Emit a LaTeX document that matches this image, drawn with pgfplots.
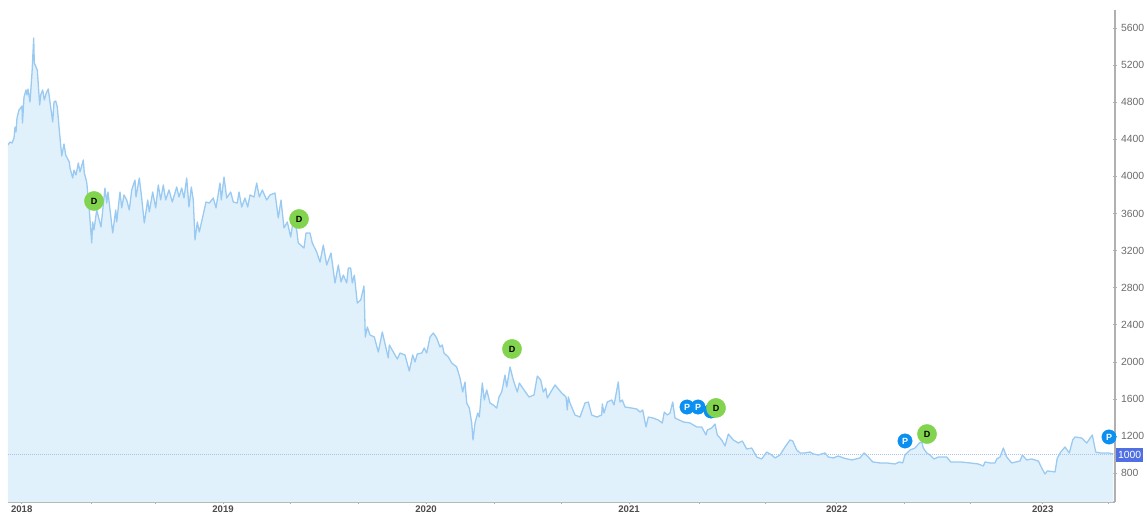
\documentclass[border=0pt]{standalone}
\usepackage{pgfplots}
\usepackage{pgfplotstable}
\usepackage{fontspec}
\setmainfont{Liberation Sans}
\pgfplotsset{compat=1.18}
\definecolor{areafill}{HTML}{E1F1FB}
\definecolor{linec}{HTML}{9ACAF2}
\definecolor{axisc}{HTML}{B0B0B0}
\definecolor{dgreen}{HTML}{82D44E}
\definecolor{pblue}{HTML}{0B8FF0}
\definecolor{boxblue}{HTML}{4F6FE3}
\definecolor{dotc}{HTML}{A9C4F2}
\pgfplotstableread{
x v
8 4339
10 4371
12 4360
14 4414
15 4533
16 4479
17 4630
19 4716
22 4759
22.5 4576
24 4856
26 4932
27 4878
28 4942
30 4802
32 5115
33.7 5492
34.3 5223
36 5180
37.3 5147
39.7 4770
40.7 4878
42.7 4932
44.3 4824
46.3 4899
48.3 4942
50 4802
52.7 4587
54 4802
55.7 4813
57.3 4748
59.3 4500
61.7 4220
64 4350
65.7 4231
69.3 4155
70 4091
72.7 3983
74 4069
76 4015
78.3 4145
80 4048
83.3 4177
84.3 4037
86.7 3940
89.3 3638
91.7 3282
92.7 3509
94 3422
96.7 3638
101 3455
105 3875
106.7 3713
108 3832
112.7 3390
115.7 3638
116.7 3509
120 3832
121.7 3660
124 3800
126.7 3746
129.3 3638
131.7 3854
135 3961
136 3778
139.3 3983
141.7 3767
144.3 3498
147.7 3746
149.3 3617
152.7 3832
155.7 3660
158.3 3908
160.7 3746
163.3 3908
165.7 3746
169 3854
172.3 3724
176.7 3886
179 3778
181.7 3875
184 3767
186.7 3983
189 3670
191.3 3886
193.3 3746
195 3315
197.3 3509
199.3 3401
202.7 3563
206 3724
209.3 3713
213.3 3767
216 3660
220 3929
221.3 3746
224 3994
226.7 3767
230.7 3832
233.3 3724
237.3 3713
239 3832
241.7 3670
245 3767
247.7 3670
250 3800
254 3778
256.7 3929
259.3 3778
262.3 3854
266.7 3746
270 3800
275 3821
278.3 3552
281 3746
284 3444
287.3 3509
290.7 3347
293.3 3530
296.7 3422
298.3 3282
304 3228
306 3390
310 3390
312.3 3282
316.7 3185
320 3077
323.3 3260
326.7 3045
331 3174
335 2851
338.3 3045
341 2862
343.3 2937
346.7 2851
348.3 3013
350.7 3013
352.3 2851
354.3 2937
357.3 2635
360.7 2668
364 2819
365.3 2269
367.3 2377
370 2291
374.3 2269
378.3 2107
382.3 2323
388.3 2043
389.3 2183
393.3 2107
397.3 2032
400 2096
405 2075
409.3 1902
412.7 2075
415 2000
417.3 2086
421.7 2096
424.3 2150
426.7 2096
430 2269
433.3 2312
436.7 2258
440 2161
442.3 2183
444 2096
448.3 2053
451.7 1989
456.7 1946
460 1827
462.7 1676
465 1784
466.7 1557
469.3 1503
471.7 1342
473 1159
475 1342
477.7 1449
479.3 1406
482.3 1773
484.3 1590
486.7 1698
490 1557
493.3 1536
496.7 1503
499 1622
501.7 1676
505 1859
506.7 1730
510 1946
513.3 1805
517.3 1676
519.3 1773
524 1698
529 1622
534 1644
537.3 1848
540.7 1805
543.3 1676
545.7 1719
547.3 1611
555 1752
561.7 1665
566 1622
567.3 1482
568.3 1622
570 1557
575 1428
580 1406
585 1557
588.3 1568
591.7 1428
596.7 1406
601.7 1428
602.3 1547
604 1449
607.3 1568
611.7 1590
614 1536
618.3 1784
620 1568
622.3 1590
625 1514
631.7 1503
636.7 1493
640 1460
642.7 1482
646 1299
648.3 1406
653.3 1395
658.3 1374
662.3 1342
664.3 1460
667.3 1428
670 1449
672.7 1568
675 1395
683.3 1353
690 1342
696.7 1299
701.7 1299
706 1213
707.3 1266
711.7 1288
715 1331
717.3 1213
721.7 1159
725 1094
728.3 1223
733.3 1159
738.3 1126
742.3 1148
746.7 1061
751.7 1072
756.7 975
761.7 954
766.7 1029
771.7 997
775 965
780 997
785 1083
790 1159
792.7 1148
796.7 1051
800 1019
805 1019
810 1029
813.3 1008
818.3 997
825 1019
828.3 975
833.3 965
838.3 986
843.3 965
851.7 943
860 965
864 1019
868.3 975
872.7 922
880 911
886.7 911
895 900
899.3 922
902.7 911
905 997
910 1051
915 1072
919.3 1126
921.7 1137
923.3 1072
926.7 1019
930 997
934 954
938.3 975
946.7 975
950.7 922
960 922
970 911
978.3 900
983.3 878
985 922
990 911
995 911
996.7 954
1000 975
1003.3 1072
1006.7 975
1011.7 911
1020 932
1022.3 997
1026.7 943
1031.7 954
1038.3 932
1041.7 857
1045 792
1047.3 825
1055 814
1057.3 965
1060.7 1029
1065 1083
1069.3 1019
1072.7 1159
1075 1191
1081.7 1180
1086.7 1126
1092.3 1212
1095.7 1029
1100 1019
1108 1019
1113.3 1008
}\pricetable
\pgfplotstableread{
x v
687 1514
698 1514
711 1471
905 1148
1109 1191
}\ptable
\pgfplotstableread{
x v
94 3735
299 3541
512 2140
716 1504
927 1223
}\dtable
\begin{document}
\begin{tikzpicture}[x=1pt,y=1pt]
\useasboundingbox (0,0) rectangle (1147,515);
\begin{axis}[
  at={(8pt,13pt)}, anchor=south west,
  scale only axis, width=1107pt, height=492pt,
  xmin=8, xmax=1115, ymin=490, ymax=5794,
  axis x line=bottom, axis y line=right,
  axis line style={-, draw=axisc, line width=1.2pt},
  tick style={draw=axisc, line width=0.8pt},
  major tick length=4pt,
  xtick={21.7,91.7,155.7,223,290,358,426,494,561,629,699,765,836.7,904,970,1042.7,1108},
  xticklabels={2018,,,2019,,,2020,,,2021,,,2022,,,2023,},
  xticklabel style={font=\fontsize{9.6}{9.6}\selectfont\bfseries, text=black!70, yshift=1.5pt},
  ytick={800,1200,1600,2000,2400,2800,3200,3600,4000,4400,4800,5200,5600},
  yticklabel style={font=\fontsize{10.4}{10.4}\selectfont, text=black!58, xshift=0.5pt},
  /pgf/number format/1000 sep={},
  /pgf/number format/assume math mode=true,
  clip mode=individual,
]
\addplot[draw=none, fill=areafill] table[x=x,y=v] {\pricetable} \closedcycle;
\addplot[linec, line width=1.3pt, line join=round] table[x=x,y=v] {\pricetable};
\addplot[dotc, line width=1pt, densely dotted] coordinates {(8,1000) (1115,1000)};
\addplot[only marks, mark=*, mark size=7.2pt, mark options={draw=pblue, fill=pblue},
  nodes near coords={\textcolor{white}{\fontsize{9}{9}\selectfont\bfseries P}},
  every node near coord/.style={anchor=center}] table[x=x,y=v] {\ptable};
\addplot[only marks, mark=*, mark size=9.6pt, mark options={draw=dgreen, fill=dgreen},
  nodes near coords={\textcolor{black}{\fontsize{9}{9}\selectfont\bfseries D}},
  every node near coord/.style={anchor=center}] table[x=x,y=v] {\dtable};
\node[fill=boxblue, text=white, font=\fontsize{10.4}{10.4}\selectfont, minimum width=27pt, minimum height=14pt, inner sep=0pt, anchor=west] at (axis cs:1116,1000) {1000};
\end{axis}
\end{tikzpicture}
\end{document}
